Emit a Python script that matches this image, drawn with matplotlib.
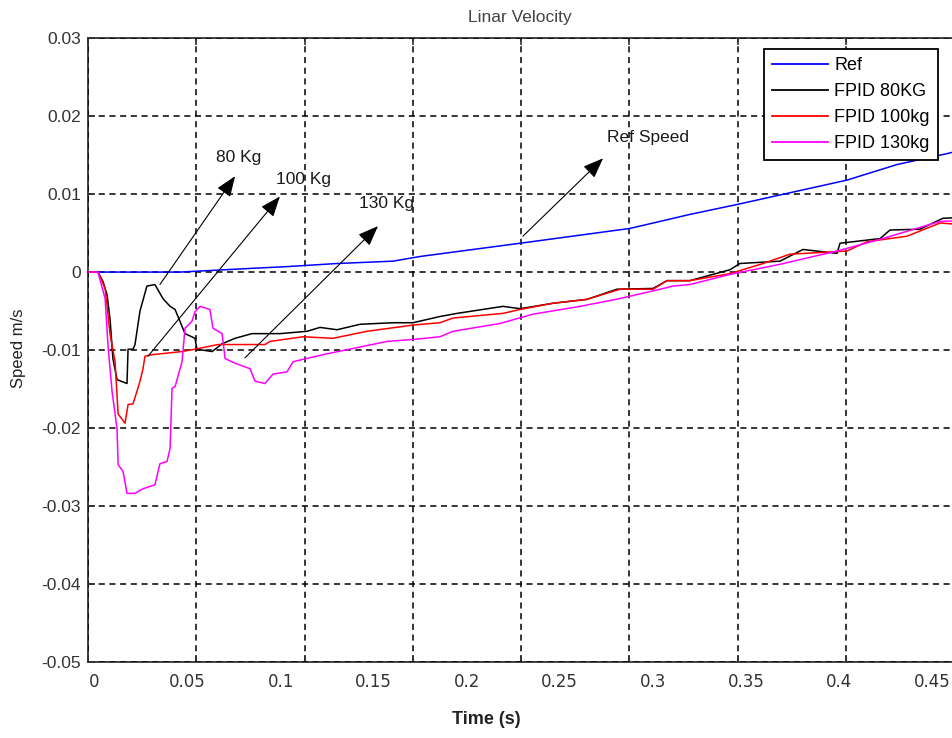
import matplotlib
matplotlib.use("Agg")
import matplotlib.pyplot as plt

plt.rcParams['font.family'] = ['Liberation Sans', 'DejaVu Sans']
plt.rcParams['axes.unicode_minus'] = False

# ---------------- data ----------------
title = "Linar Velocity"
x_label = "Time (s)"
y_label = "Speed m/s"

ref_t = [0, 0.0425, 0.0771, 0.0919, 0.115, 0.1408, 0.1533, 0.1995, 0.2502,
         0.2779, 0.3001, 0.3504, 0.3735, 0.3966, 0.4026]
ref_v = [0, 0, 0.0005, 0.0007, 0.0011, 0.0014, 0.0020, 0.0037, 0.0056,
         0.0074, 0.0087, 0.0118, 0.0138, 0.0152, 0.0156]

kg80_t = [0, 0.0046, 0.0069, 0.0088, 0.0102, 0.0115, 0.0134, 0.0180, 0.0185,
          0.0208, 0.0217, 0.0240, 0.0272, 0.0309, 0.0346, 0.0379, 0.0402,
          0.0448, 0.0494, 0.0503, 0.0573, 0.0619, 0.0679, 0.0757, 0.0886,
          0.1011, 0.1071, 0.1150, 0.1256, 0.1408, 0.1501, 0.1625, 0.1704,
          0.1916, 0.1995, 0.2147, 0.2304, 0.2442, 0.2609, 0.2673, 0.2779,
          0.2964, 0.3010, 0.3195, 0.3301, 0.3458, 0.3472, 0.3657, 0.3703,
          0.3841, 0.3947, 0.4026]
kg80_v = [0, 0, -0.0012, -0.0029, -0.0061, -0.0111, -0.0138, -0.0143, -0.0099,
          -0.0099, -0.0093, -0.0050, -0.0018, -0.0016, -0.0034, -0.0044, -0.0048,
          -0.0079, -0.0085, -0.0099, -0.0102, -0.0092, -0.0085, -0.0079, -0.0079,
          -0.0076, -0.0071, -0.0074, -0.0067, -0.0065, -0.0065, -0.0057, -0.0053,
          -0.0044, -0.0047, -0.0040, -0.0035, -0.0022, -0.0021, -0.0011, -0.0011,
          0.0003, 0.0011, 0.0014, 0.0029, 0.0024, 0.0037, 0.0043, 0.0054,
          0.0055, 0.0069, 0.0070]

kg100_t = [0, 0.0046, 0.0079, 0.0102, 0.0125, 0.0139, 0.0171, 0.0185, 0.0208,
           0.0226, 0.0240, 0.0254, 0.0263, 0.0296, 0.0434, 0.0494, 0.0600,
           0.0817, 0.0840, 0.0993, 0.1131, 0.1288, 0.1501, 0.1625, 0.1685,
           0.1916, 0.1995, 0.2147, 0.2304, 0.2456, 0.2609, 0.2673, 0.2779,
           0.2964, 0.3117, 0.3241, 0.3504, 0.3597, 0.3781, 0.3934, 0.4026]
kg100_v = [0, 0, -0.0021, -0.0080, -0.0115, -0.0182, -0.0194, -0.0170, -0.0169,
           -0.0153, -0.0140, -0.0124, -0.0108, -0.0106, -0.0102, -0.0099, -0.0093,
           -0.0093, -0.0089, -0.0083, -0.0085, -0.0076, -0.0068, -0.0065, -0.0059,
           -0.0053, -0.0048, -0.0040, -0.0035, -0.0022, -0.0022, -0.0011, -0.0011,
           -0.0002, 0.0011, 0.0023, 0.0027, 0.0039, 0.0046, 0.0063, 0.0061]

kg130_t = [0, 0.0046, 0.0079, 0.0092, 0.0111, 0.0134, 0.0139, 0.0162, 0.0180,
           0.0217, 0.0254, 0.0309, 0.0332, 0.0365, 0.0379, 0.0388, 0.0402,
           0.0434, 0.0448, 0.0480, 0.0494, 0.0517, 0.0563, 0.0577, 0.0619,
           0.0633, 0.0679, 0.0748, 0.0771, 0.0817, 0.0854, 0.0919, 0.0947,
           0.1085, 0.1224, 0.1381, 0.1519, 0.1625, 0.1685, 0.1902, 0.2055,
           0.2272, 0.2456, 0.2641, 0.2701, 0.2779, 0.2964, 0.3195, 0.3458,
           0.3657, 0.3934, 0.4026]
kg130_v = [0, 0, -0.0034, -0.0093, -0.0153, -0.0201, -0.0247, -0.0256, -0.0284,
           -0.0284, -0.0278, -0.0273, -0.0246, -0.0243, -0.0226, -0.0149, -0.0147,
           -0.0115, -0.0072, -0.0063, -0.0051, -0.0044, -0.0048, -0.0072, -0.0079,
           -0.0111, -0.0117, -0.0124, -0.0140, -0.0143, -0.0131, -0.0128, -0.0115,
           -0.0106, -0.0098, -0.0089, -0.0086, -0.0083, -0.0076, -0.0066, -0.0054,
           -0.0044, -0.0034, -0.0022, -0.0018, -0.0016, -0.0003, 0.0010, 0.0027,
           0.0042, 0.0065, 0.0066]

series_names = ["Ref", "FPID 80KG", "FPID 100kg", "FPID 130kg"]

x_tick_labels = ["0", "0.05", "0.1", "0.15", "0.2", "0.25", "0.3", "0.35", "0.4", "0.45"]
y_ticks = [0.03, 0.02, 0.01, 0, -0.01, -0.02, -0.03, -0.04, -0.05]
y_tick_labels = ["0.03", "0.02", "0.01", "0", "-0.01", "-0.02", "-0.03", "-0.04", "-0.05"]

# annotations: label, text position, arrow tail, arrow head
ann_labels = ["80 Kg", "100 Kg", "130 Kg", "Ref Speed"]
ann_text_xy = [(0.0697, 0.0147), (0.0993, 0.0119), (0.1380, 0.0088), (0.2585, 0.0173)]
ann_tail_xy = [(0.0332, -0.0016), (0.0277, -0.0108), (0.0725, -0.0110), (0.2008, 0.0046)]
ann_head_xy = [(0.0679, 0.0123), (0.0886, 0.0097), (0.1339, 0.0059), (0.2378, 0.0146)]

# ---------------- figure ----------------
W, H = 952, 738
fig = plt.figure(figsize=(W / 100, H / 100), dpi=100)
ax_left, ax_right, ax_top, ax_bottom = 88, 960, 38.3, 661.7
ax = fig.add_axes([ax_left / W, 1 - ax_bottom / H,
                   (ax_right - ax_left) / W, (ax_bottom - ax_top) / H])

colors = ["#0000ff", "#000000", "#ff0000", "#ff00ff"]
for (t, v), c, name in zip([(ref_t, ref_v), (kg80_t, kg80_v), (kg100_t, kg100_v),
                            (kg130_t, kg130_v)], colors, series_names):
    ax.plot(t, v, color=c, lw=1.1, label=name, zorder=3)

ax.set_xlim(0, 0.4026)
ax.set_ylim(-0.05, 0.03)

# major ticks (grid) every 0.05, labels offset as in the reference
ax.set_xticks([0.05 * i for i in range(9)])
ax.set_xticklabels([""] * 9)
label_x0, label_step = 0.003, 0.04296
ax.set_xticks([label_x0 + label_step * i for i in range(len(x_tick_labels))], minor=True)
ax.set_xticklabels(x_tick_labels, minor=True, fontfamily="DejaVu Sans",
                   fontsize=12, color="#333333")
ax.tick_params(axis="x", which="minor", length=0, pad=8)
ax.tick_params(axis="x", which="major", direction="in", length=5, top=True,
               width=1.2, color="#333333")

ax.set_yticks(y_ticks)
ax.set_yticklabels(y_tick_labels, fontsize=12.5, color="#333333")
ax.tick_params(axis="y", which="major", direction="in", length=5, right=True,
               width=1.2, color="#333333", pad=5)

ax.grid(True, which="major", linestyle=(0, (4, 3)), color="black", lw=1.1)
ax.set_axisbelow(False)
for s in ax.spines.values():
    s.set_color("#333333")
    s.set_linewidth(1.3)

ax.set_title(title, fontsize=12.5, color="#444444", x=(520 - ax_left) / (ax_right - ax_left), pad=12)
ax.set_xlabel(x_label, fontsize=13, fontweight="bold", color="#222222")
ax.xaxis.set_label_coords((486 - ax_left) / (ax_right - ax_left), (ax_bottom - 711) / (ax_bottom - ax_top))
ax.set_ylabel(y_label, fontsize=12, color="#222222")
ax.yaxis.set_label_coords((26 - ax_left) / (ax_right - ax_left), (ax_bottom - 348) / (ax_bottom - ax_top))

for lab, txy, tail, head in zip(ann_labels, ann_text_xy, ann_tail_xy, ann_head_xy):
    ax.annotate("", xy=head, xytext=tail,
                arrowprops=dict(arrowstyle="-|>,head_length=0.9,head_width=0.35",
                                color="black", lw=0.8, mutation_scale=14,
                                shrinkA=0, shrinkB=0), zorder=4)
    ax.text(txy[0], txy[1], lab, ha="center", va="center", fontsize=12.5,
            color="#1a1a1a", zorder=5)

leg = ax.legend(loc="upper left", bbox_to_anchor=(764 / W, 1 - 49 / H),
                bbox_transform=fig.transFigure, borderaxespad=0,
                fontsize=13, frameon=True, fancybox=False, framealpha=1,
                edgecolor="black", handlelength=3.1, handletextpad=0.35,
                labelspacing=0.5, borderpad=0.45)
leg.get_frame().set_linewidth(1.3)
for line in leg.get_lines():
    line.set_linewidth(1.3)

fig.savefig("out.png", dpi=100)
